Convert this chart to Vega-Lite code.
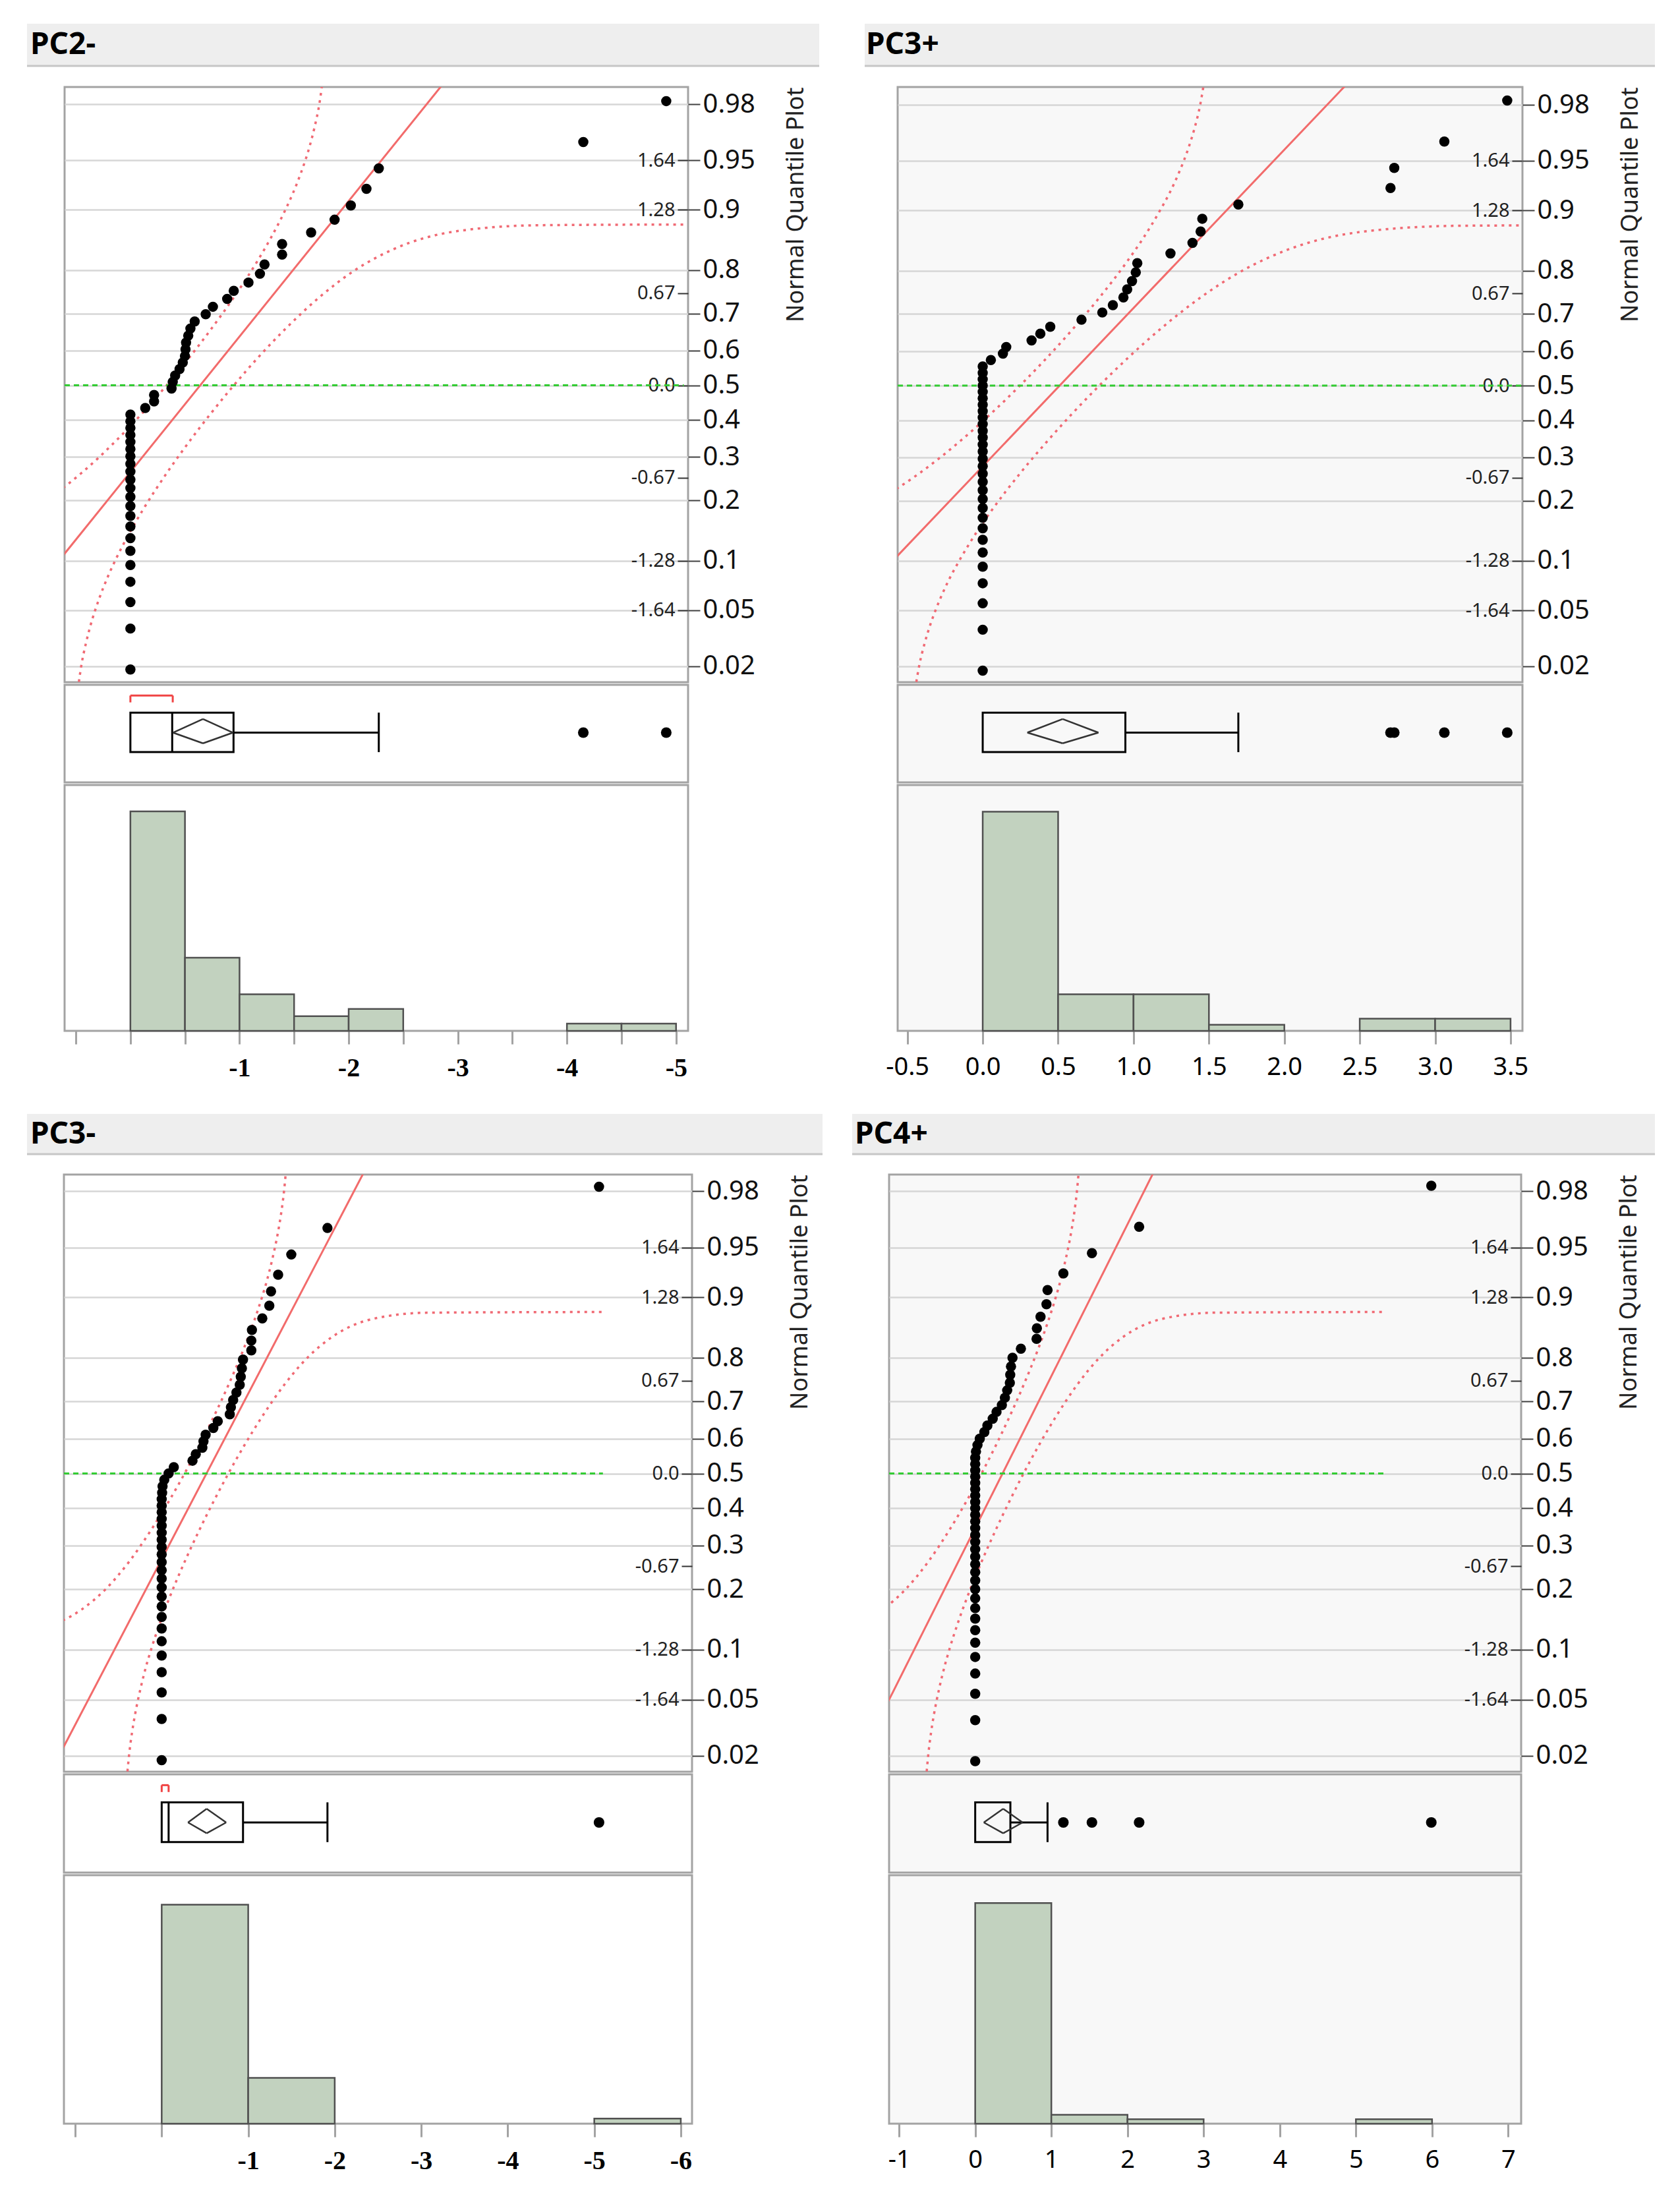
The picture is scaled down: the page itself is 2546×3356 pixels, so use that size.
{
"$schema": "https://vega.github.io/schema/vega-lite/v6.json",
"background": "#ffffff",
"padding": {"left": 39, "top": 36, "right": 30, "bottom": 20},
"config": {
  "view": {"stroke": null},
  "axis": {"labelFlush": false, "labelOverlap": false, "domain": false, "titleFontWeight": "normal"},
  "axisRight": {"tickSize": 18, "tickWidth": 2, "tickColor": "#404040", "labelFont": "Noto Sans", "labelFontSize": 40, "labelColor": "#111111", "labelPadding": 4, "titleFont": "Noto Sans", "titleFontSize": 36, "titleColor": "#222222", "titleAngle": 270, "titleAnchor": "end", "titleAlign": "right", "titleBaseline": "top", "titlePadding": 45},
  "axisLeft": {"tickSize": 16, "tickWidth": 2, "tickColor": "#333333", "labelFont": "Noto Sans", "labelFontSize": 29, "labelColor": "#222222", "labelPadding": 4},
  "axisBottom": {"tickSize": 20, "tickWidth": 3, "tickColor": "#a3a3a3", "labelPadding": 16, "labelColor": "#000000", "labelFontSize": 40}
},
"datasets": {
"pts": [
{"p":"PC2-","v":0,"z":-2.077},{"p":"PC2-","v":0,"z":-1.778},{"p":"PC2-","v":0,"z":-1.585},{"p":"PC2-","v":0,"z":-1.436},{"p":"PC2-","v":0,"z":-1.314},{"p":"PC2-","v":0,"z":-1.21},{"p":"PC2-","v":0,"z":-1.117},{"p":"PC2-","v":0,"z":-1.032},{"p":"PC2-","v":0,"z":-0.955},{"p":"PC2-","v":0,"z":-0.883},{"p":"PC2-","v":0,"z":-0.815},{"p":"PC2-","v":0,"z":-0.751},{"p":"PC2-","v":0,"z":-0.69},{"p":"PC2-","v":0,"z":-0.631},{"p":"PC2-","v":0,"z":-0.574},{"p":"PC2-","v":0,"z":-0.519},{"p":"PC2-","v":0,"z":-0.466},{"p":"PC2-","v":0,"z":-0.414},{"p":"PC2-","v":0,"z":-0.363},{"p":"PC2-","v":0,"z":-0.312},{"p":"PC2-","v":0,"z":-0.263},{"p":"PC2-","v":0,"z":-0.214},
{"p":"PC2-","v":0.136,"z":-0.166},{"p":"PC2-","v":0.217,"z":-0.118},{"p":"PC2-","v":0.217,"z":-0.071},{"p":"PC2-","v":0.377,"z":-0.024},{"p":"PC2-","v":0.388,"z":0.024},{"p":"PC2-","v":0.41,"z":0.071},{"p":"PC2-","v":0.45,"z":0.118},{"p":"PC2-","v":0.48,"z":0.166},{"p":"PC2-","v":0.5,"z":0.214},{"p":"PC2-","v":0.505,"z":0.263},{"p":"PC2-","v":0.51,"z":0.312},{"p":"PC2-","v":0.53,"z":0.363},{"p":"PC2-","v":0.55,"z":0.414},{"p":"PC2-","v":0.589,"z":0.466},{"p":"PC2-","v":0.69,"z":0.519},{"p":"PC2-","v":0.756,"z":0.574},{"p":"PC2-","v":0.887,"z":0.631},{"p":"PC2-","v":0.947,"z":0.69},{"p":"PC2-","v":1.082,"z":0.751},{"p":"PC2-","v":1.187,"z":0.815},{"p":"PC2-","v":1.229,"z":0.883},{"p":"PC2-","v":1.39,"z":0.955},{"p":"PC2-","v":1.39,"z":1.032},{"p":"PC2-","v":1.656,"z":1.117},{"p":"PC2-","v":1.871,"z":1.21},{"p":"PC2-","v":2.02,"z":1.314},{"p":"PC2-","v":2.163,"z":1.436},{"p":"PC2-","v":2.276,"z":1.585},{"p":"PC2-","v":4.15,"z":1.778},{"p":"PC2-","v":4.91,"z":2.077},
{"p":"PC3+","v":0,"z":-2.086},{"p":"PC3+","v":0,"z":-1.786},{"p":"PC3+","v":0,"z":-1.593},{"p":"PC3+","v":0,"z":-1.446},{"p":"PC3+","v":0,"z":-1.325},{"p":"PC3+","v":0,"z":-1.221},{"p":"PC3+","v":0,"z":-1.128},{"p":"PC3+","v":0,"z":-1.044},{"p":"PC3+","v":0,"z":-0.967},{"p":"PC3+","v":0,"z":-0.896},{"p":"PC3+","v":0,"z":-0.829},{"p":"PC3+","v":0,"z":-0.765},{"p":"PC3+","v":0,"z":-0.704},{"p":"PC3+","v":0,"z":-0.645},{"p":"PC3+","v":0,"z":-0.589},{"p":"PC3+","v":0,"z":-0.535},{"p":"PC3+","v":0,"z":-0.482},{"p":"PC3+","v":0,"z":-0.431},{"p":"PC3+","v":0,"z":-0.38},{"p":"PC3+","v":0,"z":-0.331},{"p":"PC3+","v":0,"z":-0.282},{"p":"PC3+","v":0,"z":-0.234},{"p":"PC3+","v":0,"z":-0.187},{"p":"PC3+","v":0,"z":-0.14},{"p":"PC3+","v":0,"z":-0.093},{"p":"PC3+","v":0,"z":-0.046},{"p":"PC3+","v":0,"z":0},{"p":"PC3+","v":0,"z":0.046},{"p":"PC3+","v":0,"z":0.093},{"p":"PC3+","v":0,"z":0.14},
{"p":"PC3+","v":0.054,"z":0.187},{"p":"PC3+","v":0.134,"z":0.234},{"p":"PC3+","v":0.156,"z":0.282},{"p":"PC3+","v":0.324,"z":0.331},{"p":"PC3+","v":0.382,"z":0.38},{"p":"PC3+","v":0.448,"z":0.431},{"p":"PC3+","v":0.655,"z":0.482},{"p":"PC3+","v":0.793,"z":0.535},{"p":"PC3+","v":0.863,"z":0.589},{"p":"PC3+","v":0.933,"z":0.645},{"p":"PC3+","v":0.958,"z":0.704},{"p":"PC3+","v":0.99,"z":0.765},{"p":"PC3+","v":1.015,"z":0.829},{"p":"PC3+","v":1.025,"z":0.896},{"p":"PC3+","v":1.245,"z":0.967},{"p":"PC3+","v":1.391,"z":1.044},{"p":"PC3+","v":1.445,"z":1.128},{"p":"PC3+","v":1.456,"z":1.221},{"p":"PC3+","v":1.695,"z":1.325},{"p":"PC3+","v":2.704,"z":1.446},{"p":"PC3+","v":2.729,"z":1.593},{"p":"PC3+","v":3.061,"z":1.786},{"p":"PC3+","v":3.478,"z":2.086},
{"p":"PC3-","v":0,"z":-2.086},{"p":"PC3-","v":0,"z":-1.786},{"p":"PC3-","v":0,"z":-1.593},{"p":"PC3-","v":0,"z":-1.446},{"p":"PC3-","v":0,"z":-1.325},{"p":"PC3-","v":0,"z":-1.221},{"p":"PC3-","v":0,"z":-1.128},{"p":"PC3-","v":0,"z":-1.044},{"p":"PC3-","v":0,"z":-0.967},{"p":"PC3-","v":0,"z":-0.896},{"p":"PC3-","v":0,"z":-0.829},{"p":"PC3-","v":0,"z":-0.765},{"p":"PC3-","v":0,"z":-0.704},{"p":"PC3-","v":0,"z":-0.645},{"p":"PC3-","v":0,"z":-0.589},{"p":"PC3-","v":0,"z":-0.535},{"p":"PC3-","v":0,"z":-0.482},{"p":"PC3-","v":0,"z":-0.431},{"p":"PC3-","v":0,"z":-0.38},{"p":"PC3-","v":0,"z":-0.331},{"p":"PC3-","v":0,"z":-0.282},{"p":"PC3-","v":0,"z":-0.234},{"p":"PC3-","v":0,"z":-0.187},
{"p":"PC3-","v":0.005,"z":-0.14},{"p":"PC3-","v":0.01,"z":-0.093},{"p":"PC3-","v":0.03,"z":-0.046},{"p":"PC3-","v":0.08,"z":0},{"p":"PC3-","v":0.14,"z":0.046},{"p":"PC3-","v":0.356,"z":0.093},{"p":"PC3-","v":0.394,"z":0.14},{"p":"PC3-","v":0.47,"z":0.187},{"p":"PC3-","v":0.483,"z":0.234},{"p":"PC3-","v":0.508,"z":0.282},{"p":"PC3-","v":0.597,"z":0.331},{"p":"PC3-","v":0.648,"z":0.38},{"p":"PC3-","v":0.787,"z":0.431},{"p":"PC3-","v":0.8,"z":0.482},{"p":"PC3-","v":0.826,"z":0.535},{"p":"PC3-","v":0.864,"z":0.589},{"p":"PC3-","v":0.902,"z":0.645},{"p":"PC3-","v":0.914,"z":0.704},{"p":"PC3-","v":0.927,"z":0.765},{"p":"PC3-","v":0.94,"z":0.829},{"p":"PC3-","v":1.036,"z":0.896},{"p":"PC3-","v":1.036,"z":0.967},{"p":"PC3-","v":1.043,"z":1.044},{"p":"PC3-","v":1.163,"z":1.128},{"p":"PC3-","v":1.244,"z":1.221},{"p":"PC3-","v":1.264,"z":1.325},{"p":"PC3-","v":1.346,"z":1.446},{"p":"PC3-","v":1.498,"z":1.593},{"p":"PC3-","v":1.916,"z":1.786},{"p":"PC3-","v":5.055,"z":2.086},
{"p":"PC4+","v":0,"z":-2.093},{"p":"PC4+","v":0,"z":-1.795},{"p":"PC4+","v":0,"z":-1.603},{"p":"PC4+","v":0,"z":-1.456},{"p":"PC4+","v":0,"z":-1.335},{"p":"PC4+","v":0,"z":-1.231},{"p":"PC4+","v":0,"z":-1.14},{"p":"PC4+","v":0,"z":-1.056},{"p":"PC4+","v":0,"z":-0.98},{"p":"PC4+","v":0,"z":-0.908},{"p":"PC4+","v":0,"z":-0.842},{"p":"PC4+","v":0,"z":-0.778},{"p":"PC4+","v":0,"z":-0.718},{"p":"PC4+","v":0,"z":-0.66},{"p":"PC4+","v":0,"z":-0.605},{"p":"PC4+","v":0,"z":-0.551},{"p":"PC4+","v":0,"z":-0.498},{"p":"PC4+","v":0,"z":-0.448},{"p":"PC4+","v":0,"z":-0.398},{"p":"PC4+","v":0,"z":-0.349},{"p":"PC4+","v":0,"z":-0.301},{"p":"PC4+","v":0,"z":-0.253},{"p":"PC4+","v":0,"z":-0.207},{"p":"PC4+","v":0,"z":-0.16},{"p":"PC4+","v":0,"z":-0.114},{"p":"PC4+","v":0,"z":-0.068},{"p":"PC4+","v":0,"z":-0.023},{"p":"PC4+","v":0,"z":0.023},{"p":"PC4+","v":0,"z":0.068},{"p":"PC4+","v":0,"z":0.114},
{"p":"PC4+","v":0.01,"z":0.16},{"p":"PC4+","v":0.03,"z":0.207},{"p":"PC4+","v":0.06,"z":0.253},{"p":"PC4+","v":0.12,"z":0.301},{"p":"PC4+","v":0.16,"z":0.349},{"p":"PC4+","v":0.23,"z":0.398},{"p":"PC4+","v":0.28,"z":0.448},{"p":"PC4+","v":0.35,"z":0.498},{"p":"PC4+","v":0.39,"z":0.551},{"p":"PC4+","v":0.42,"z":0.605},{"p":"PC4+","v":0.455,"z":0.66},{"p":"PC4+","v":0.46,"z":0.718},{"p":"PC4+","v":0.47,"z":0.778},{"p":"PC4+","v":0.49,"z":0.842},{"p":"PC4+","v":0.6,"z":0.908},{"p":"PC4+","v":0.806,"z":0.98},{"p":"PC4+","v":0.81,"z":1.056},{"p":"PC4+","v":0.858,"z":1.14},{"p":"PC4+","v":0.936,"z":1.231},{"p":"PC4+","v":0.95,"z":1.335},{"p":"PC4+","v":1.158,"z":1.456},{"p":"PC4+","v":1.533,"z":1.603},{"p":"PC4+","v":2.153,"z":1.795},{"p":"PC4+","v":5.99,"z":2.093}
],
"bands": [
{"p":"PC2-","b":"u","v":-1.129,"z":-0.994},{"p":"PC2-","b":"u","v":-0.779,"z":-0.842},{"p":"PC2-","b":"u","v":-0.451,"z":-0.643},{"p":"PC2-","b":"u","v":-0.14,"z":-0.412},{"p":"PC2-","b":"u","v":0.111,"z":-0.202},{"p":"PC2-","b":"u","v":0.332,"z":0},{"p":"PC2-","b":"u","v":0.539,"z":0.202},{"p":"PC2-","b":"u","v":0.741,"z":0.412},{"p":"PC2-","b":"u","v":0.948,"z":0.643},{"p":"PC2-","b":"u","v":1.169,"z":0.915},{"p":"PC2-","b":"u","v":1.289,"z":1.08},{"p":"PC2-","b":"u","v":1.42,"z":1.282},{"p":"PC2-","b":"u","v":1.49,"z":1.405},{"p":"PC2-","b":"u","v":1.564,"z":1.555},{"p":"PC2-","b":"u","v":1.644,"z":1.751},{"p":"PC2-","b":"u","v":1.686,"z":1.881},{"p":"PC2-","b":"u","v":1.731,"z":2.054},{"p":"PC2-","b":"u","v":1.777,"z":2.326},
{"p":"PC2-","b":"l","v":-0.497,"z":-2.326},{"p":"PC2-","b":"l","v":-0.451,"z":-2.054},{"p":"PC2-","b":"l","v":-0.406,"z":-1.881},{"p":"PC2-","b":"l","v":-0.364,"z":-1.751},{"p":"PC2-","b":"l","v":-0.284,"z":-1.555},{"p":"PC2-","b":"l","v":-0.21,"z":-1.405},{"p":"PC2-","b":"l","v":-0.14,"z":-1.282},{"p":"PC2-","b":"l","v":-0.009,"z":-1.08},{"p":"PC2-","b":"l","v":0.111,"z":-0.915},{"p":"PC2-","b":"l","v":0.332,"z":-0.643},{"p":"PC2-","b":"l","v":0.539,"z":-0.412},{"p":"PC2-","b":"l","v":0.741,"z":-0.202},{"p":"PC2-","b":"l","v":0.948,"z":0},{"p":"PC2-","b":"l","v":1.169,"z":0.202},{"p":"PC2-","b":"l","v":1.42,"z":0.412},{"p":"PC2-","b":"l","v":1.731,"z":0.643},{"p":"PC2-","b":"l","v":2.059,"z":0.842},{"p":"PC2-","b":"l","v":2.409,"z":0.994},{"p":"PC2-","b":"l","v":2.989,"z":1.126},{"p":"PC2-","b":"l","v":3.761,"z":1.17},{"p":"PC2-","b":"l","v":5.07,"z":1.175},
{"p":"PC3+","b":"u","v":-1.001,"z":-0.994},{"p":"PC3+","b":"u","v":-0.703,"z":-0.842},{"p":"PC3+","b":"u","v":-0.422,"z":-0.643},{"p":"PC3+","b":"u","v":-0.156,"z":-0.412},{"p":"PC3+","b":"u","v":0.058,"z":-0.202},{"p":"PC3+","b":"u","v":0.247,"z":0},{"p":"PC3+","b":"u","v":0.424,"z":0.202},{"p":"PC3+","b":"u","v":0.596,"z":0.412},{"p":"PC3+","b":"u","v":0.773,"z":0.643},{"p":"PC3+","b":"u","v":0.962,"z":0.915},{"p":"PC3+","b":"u","v":1.065,"z":1.08},{"p":"PC3+","b":"u","v":1.176,"z":1.282},{"p":"PC3+","b":"u","v":1.237,"z":1.405},{"p":"PC3+","b":"u","v":1.3,"z":1.555},{"p":"PC3+","b":"u","v":1.368,"z":1.751},{"p":"PC3+","b":"u","v":1.404,"z":1.881},{"p":"PC3+","b":"u","v":1.442,"z":2.054},{"p":"PC3+","b":"u","v":1.482,"z":2.326},
{"p":"PC3+","b":"l","v":-0.462,"z":-2.326},{"p":"PC3+","b":"l","v":-0.422,"z":-2.054},{"p":"PC3+","b":"l","v":-0.384,"z":-1.881},{"p":"PC3+","b":"l","v":-0.348,"z":-1.751},{"p":"PC3+","b":"l","v":-0.28,"z":-1.555},{"p":"PC3+","b":"l","v":-0.217,"z":-1.405},{"p":"PC3+","b":"l","v":-0.156,"z":-1.282},{"p":"PC3+","b":"l","v":-0.045,"z":-1.08},{"p":"PC3+","b":"l","v":0.058,"z":-0.915},{"p":"PC3+","b":"l","v":0.247,"z":-0.643},{"p":"PC3+","b":"l","v":0.424,"z":-0.412},{"p":"PC3+","b":"l","v":0.596,"z":-0.202},{"p":"PC3+","b":"l","v":0.773,"z":0},{"p":"PC3+","b":"l","v":0.962,"z":0.202},{"p":"PC3+","b":"l","v":1.176,"z":0.412},{"p":"PC3+","b":"l","v":1.442,"z":0.643},{"p":"PC3+","b":"l","v":1.723,"z":0.842},{"p":"PC3+","b":"l","v":2.021,"z":0.994},{"p":"PC3+","b":"l","v":2.517,"z":1.126},{"p":"PC3+","b":"l","v":3.177,"z":1.17},{"p":"PC3+","b":"l","v":3.579,"z":1.172},
{"p":"PC3-","b":"u","v":-2.047,"z":-1.17},{"p":"PC3-","b":"u","v":-1.413,"z":-1.126},{"p":"PC3-","b":"u","v":-0.935,"z":-0.994},{"p":"PC3-","b":"u","v":-0.648,"z":-0.842},{"p":"PC3-","b":"u","v":-0.378,"z":-0.643},{"p":"PC3-","b":"u","v":-0.123,"z":-0.412},{"p":"PC3-","b":"u","v":0.083,"z":-0.202},{"p":"PC3-","b":"u","v":0.265,"z":0},{"p":"PC3-","b":"u","v":0.435,"z":0.202},{"p":"PC3-","b":"u","v":0.601,"z":0.412},{"p":"PC3-","b":"u","v":0.771,"z":0.643},{"p":"PC3-","b":"u","v":0.953,"z":0.915},{"p":"PC3-","b":"u","v":1.052,"z":1.08},{"p":"PC3-","b":"u","v":1.159,"z":1.282},{"p":"PC3-","b":"u","v":1.217,"z":1.405},{"p":"PC3-","b":"u","v":1.277,"z":1.555},{"p":"PC3-","b":"u","v":1.343,"z":1.751},{"p":"PC3-","b":"u","v":1.378,"z":1.881},{"p":"PC3-","b":"u","v":1.414,"z":2.054},{"p":"PC3-","b":"u","v":1.453,"z":2.326},
{"p":"PC3-","b":"l","v":-0.417,"z":-2.326},{"p":"PC3-","b":"l","v":-0.378,"z":-2.054},{"p":"PC3-","b":"l","v":-0.342,"z":-1.881},{"p":"PC3-","b":"l","v":-0.307,"z":-1.751},{"p":"PC3-","b":"l","v":-0.241,"z":-1.555},{"p":"PC3-","b":"l","v":-0.181,"z":-1.405},{"p":"PC3-","b":"l","v":-0.123,"z":-1.282},{"p":"PC3-","b":"l","v":-0.016,"z":-1.08},{"p":"PC3-","b":"l","v":0.083,"z":-0.915},{"p":"PC3-","b":"l","v":0.265,"z":-0.643},{"p":"PC3-","b":"l","v":0.435,"z":-0.412},{"p":"PC3-","b":"l","v":0.601,"z":-0.202},{"p":"PC3-","b":"l","v":0.771,"z":0},{"p":"PC3-","b":"l","v":0.953,"z":0.202},{"p":"PC3-","b":"l","v":1.159,"z":0.412},{"p":"PC3-","b":"l","v":1.414,"z":0.643},{"p":"PC3-","b":"l","v":1.684,"z":0.842},{"p":"PC3-","b":"l","v":1.971,"z":0.994},{"p":"PC3-","b":"l","v":2.449,"z":1.126},{"p":"PC3-","b":"l","v":3.083,"z":1.17},{"p":"PC3-","b":"l","v":5.1,"z":1.175},
{"p":"PC4+","b":"u","v":-2.437,"z":-1.17},{"p":"PC4+","b":"u","v":-1.746,"z":-1.126},{"p":"PC4+","b":"u","v":-1.226,"z":-0.994},{"p":"PC4+","b":"u","v":-0.913,"z":-0.842},{"p":"PC4+","b":"u","v":-0.618,"z":-0.643},{"p":"PC4+","b":"u","v":-0.34,"z":-0.412},{"p":"PC4+","b":"u","v":-0.115,"z":-0.202},{"p":"PC4+","b":"u","v":0.083,"z":0},{"p":"PC4+","b":"u","v":0.269,"z":0.202},{"p":"PC4+","b":"u","v":0.45,"z":0.412},{"p":"PC4+","b":"u","v":0.635,"z":0.643},{"p":"PC4+","b":"u","v":0.833,"z":0.915},{"p":"PC4+","b":"u","v":0.941,"z":1.08},{"p":"PC4+","b":"u","v":1.058,"z":1.282},{"p":"PC4+","b":"u","v":1.121,"z":1.405},{"p":"PC4+","b":"u","v":1.187,"z":1.555},{"p":"PC4+","b":"u","v":1.259,"z":1.751},{"p":"PC4+","b":"u","v":1.297,"z":1.881},{"p":"PC4+","b":"u","v":1.336,"z":2.054},{"p":"PC4+","b":"u","v":1.378,"z":2.326},
{"p":"PC4+","b":"l","v":-0.66,"z":-2.326},{"p":"PC4+","b":"l","v":-0.618,"z":-2.054},{"p":"PC4+","b":"l","v":-0.579,"z":-1.881},{"p":"PC4+","b":"l","v":-0.541,"z":-1.751},{"p":"PC4+","b":"l","v":-0.469,"z":-1.555},{"p":"PC4+","b":"l","v":-0.403,"z":-1.405},{"p":"PC4+","b":"l","v":-0.34,"z":-1.282},{"p":"PC4+","b":"l","v":-0.223,"z":-1.08},{"p":"PC4+","b":"l","v":-0.115,"z":-0.915},{"p":"PC4+","b":"l","v":0.083,"z":-0.643},{"p":"PC4+","b":"l","v":0.269,"z":-0.412},{"p":"PC4+","b":"l","v":0.45,"z":-0.202},{"p":"PC4+","b":"l","v":0.635,"z":0},{"p":"PC4+","b":"l","v":0.833,"z":0.202},{"p":"PC4+","b":"l","v":1.058,"z":0.412},{"p":"PC4+","b":"l","v":1.336,"z":0.643},{"p":"PC4+","b":"l","v":1.631,"z":0.842},{"p":"PC4+","b":"l","v":1.944,"z":0.994},{"p":"PC4+","b":"l","v":2.464,"z":1.126},{"p":"PC4+","b":"l","v":3.155,"z":1.17},{"p":"PC4+","b":"l","v":5.37,"z":1.175}
],
"lines": [
{"p":"PC2-","k":"fit","v":-1.885,"z":-2.5,"v2":3.165,"z2":2.5},{"p":"PC2-","k":"mid","v":-0.603,"z":0,"v2":5.07,"z2":0},
{"p":"PC3+","k":"fit","v":-1.648,"z":-2.5,"v2":2.668,"z2":2.5},{"p":"PC3+","k":"mid","v":-0.564,"z":0,"v2":3.579,"z2":0},
{"p":"PC3-","k":"fit","v":-1.557,"z":-2.5,"v2":2.593,"z2":2.5},{"p":"PC3-","k":"mid","v":-1.13,"z":0,"v2":5.1,"z2":0},
{"p":"PC4+","k":"fit","v":-1.904,"z":-2.5,"v2":2.622,"z2":2.5},{"p":"PC4+","k":"mid","v":-1.131,"z":0,"v2":5.37,"z2":0}
],
"box": [
{"p":"PC2-","q1":0,"med":0.383,"q3":0.945,"wh":2.276,"mean":0.665,"lo":0.39,"hi":0.94,"sl":0,"sh":0.388},
{"p":"PC3+","q1":0,"med":0,"q3":0.946,"wh":1.695,"mean":0.53,"lo":0.296,"hi":0.767,"sl":0,"sh":0},
{"p":"PC3-","q1":0,"med":0.08,"q3":0.94,"wh":1.916,"mean":0.52,"lo":0.304,"hi":0.745,"sl":0,"sh":0.08},
{"p":"PC4+","q1":0,"med":0,"q3":0.462,"wh":0.95,"mean":0.367,"lo":0.113,"hi":0.622,"sl":0,"sh":0}
],
"hist": [
{"p":"PC2-","b0":0,"b1":0.5,"n":30},{"p":"PC2-","b0":0.5,"b1":1,"n":10},{"p":"PC2-","b0":1,"b1":1.5,"n":5},{"p":"PC2-","b0":1.5,"b1":2,"n":2},{"p":"PC2-","b0":2,"b1":2.5,"n":3},{"p":"PC2-","b0":4,"b1":4.5,"n":1},{"p":"PC2-","b0":4.5,"b1":5,"n":1},
{"p":"PC3+","b0":0,"b1":0.5,"n":36},{"p":"PC3+","b0":0.5,"b1":1,"n":6},{"p":"PC3+","b0":1,"b1":1.5,"n":6},{"p":"PC3+","b0":1.5,"b1":2,"n":1},{"p":"PC3+","b0":2.5,"b1":3,"n":2},{"p":"PC3+","b0":3,"b1":3.5,"n":2},
{"p":"PC3-","b0":0,"b1":1,"n":43},{"p":"PC3-","b0":1,"b1":2,"n":9},{"p":"PC3-","b0":5,"b1":6,"n":1},
{"p":"PC4+","b0":0,"b1":1,"n":50},{"p":"PC4+","b0":1,"b1":2,"n":2},{"p":"PC4+","b0":2,"b1":3,"n":1},{"p":"PC4+","b0":5,"b1":6,"n":1}
]
},
"spacing": 0,
"vconcat": [
{"bounds": "flush", "spacing": 69, "hconcat": [
  {"width": 1202, "height": 64, "data": {"values": [{"t": "PC2-"}]}, "view": {"fill": "#eeeeee", "stroke": null},
   "layer": [
    {"mark": {"type": "rule", "color": "#c6c6c6", "strokeWidth": 3}, "encoding": {"y": {"datum": 0, "type": "quantitative", "scale": {"domain": [0, 1]}, "axis": null}}},
    {"mark": {"type": "text", "align": "left", "baseline": "middle", "dx": 5, "font": "Noto Sans", "fontSize": 46, "fontWeight": "bold", "color": "#000000"},
     "encoding": {"x": {"datum": 0, "type": "quantitative", "scale": {"domain": [0, 1]}, "axis": null}, "y": {"datum": 0.5, "type": "quantitative", "scale": {"domain": [0, 1]}, "axis": null}, "text": {"field": "t"}}}
   ]},
  {"width": 1199, "height": 64, "data": {"values": [{"t": "PC3+"}]}, "view": {"fill": "#eeeeee", "stroke": null},
   "layer": [
    {"mark": {"type": "rule", "color": "#c6c6c6", "strokeWidth": 3}, "encoding": {"y": {"datum": 0, "type": "quantitative", "scale": {"domain": [0, 1]}, "axis": null}}},
    {"mark": {"type": "text", "align": "left", "baseline": "middle", "dx": 2, "font": "Noto Sans", "fontSize": 46, "fontWeight": "bold", "color": "#000000"},
     "encoding": {"x": {"datum": 0, "type": "quantitative", "scale": {"domain": [0, 1]}, "axis": null}, "y": {"datum": 0.5, "type": "quantitative", "scale": {"domain": [0, 1]}, "axis": null}, "text": {"field": "t"}}}
   ]}
]},
{"width": 10, "height": 28, "data": {"values": [{}]}, "mark": {"type": "point", "opacity": 0}, "view": {"stroke": null}},
{"bounds": "flush", "spacing": 0, "hconcat": [
  {"width": 57, "height": 10, "data": {"values": [{}]}, "mark": {"type": "point", "opacity": 0}, "view": {"stroke": null}},
  {"width": 946, "height": 903, "view": {"fill": "#ffffff", "stroke": "#a3a3a3", "strokeWidth": 3},
   "resolve": {"axis": {"y": "independent"}},
   "layer": [
    {"data": {"name": "bands"}, "transform": [{"filter": "datum.p == 'PC2-'"}],
     "mark": {"type": "line", "color": "#f06a74", "strokeWidth": 3.5, "strokeDash": [4, 7], "interpolate": "monotone", "clip": true},
     "encoding": {"x": {"field": "v", "type": "quantitative", "scale": {"domain": [-0.603, 5.11], "nice": false, "zero": false}, "axis": null},
                  "y": {"field": "z", "type": "quantitative", "scale": {"domain": [-2.17, 2.18], "nice": false, "zero": false}, "axis": null},
                  "detail": {"field": "b"}, "order": {"field": "v"}}},
    {"data": {"name": "lines"}, "transform": [{"filter": "datum.p == 'PC2-' && datum.k == 'fit'"}],
     "mark": {"type": "rule", "color": "#f26b6b", "strokeWidth": 3, "clip": true},
     "encoding": {"x": {"field": "v", "type": "quantitative", "scale": {"domain": [-0.603, 5.11], "nice": false, "zero": false}, "axis": null}, "x2": {"field": "v2"},
                  "y": {"field": "z", "type": "quantitative", "scale": {"domain": [-2.17, 2.18], "nice": false, "zero": false}, "axis": null}, "y2": {"field": "z2"}}},
    {"data": {"name": "lines"}, "transform": [{"filter": "datum.p == 'PC2-' && datum.k == 'mid'"}],
     "mark": {"type": "rule", "color": "#33cc33", "strokeWidth": 3, "strokeDash": [8, 6], "clip": true},
     "encoding": {"x": {"field": "v", "type": "quantitative", "scale": {"domain": [-0.603, 5.11], "nice": false, "zero": false}, "axis": null}, "x2": {"field": "v2"},
                  "y": {"field": "z", "type": "quantitative", "scale": {"domain": [-2.17, 2.18], "nice": false, "zero": false},
                        "axis": {"orient": "left", "offset": -946, "values": [-1.6449, -1.2816, -0.6745, 0, 0.6745, 1.2816, 1.6449], "labelExpr": "datum.value == 0 ? '0.0' : (datum.value < 0 ? '-' : '') + format(abs(datum.value), '.2f')", "grid": false, "title": null}},
                  "y2": {"field": "z2"}}},
    {"data": {"name": "pts"}, "transform": [{"filter": "datum.p == 'PC2-'"}],
     "mark": {"type": "circle", "color": "#000000", "size": 240, "opacity": 1},
     "encoding": {"x": {"field": "v", "type": "quantitative", "scale": {"domain": [-0.603, 5.11], "nice": false, "zero": false}, "axis": null},
                  "y": {"field": "z", "type": "quantitative", "scale": {"domain": [-2.17, 2.18], "nice": false, "zero": false},
                        "axis": {"orient": "right", "values": [-2.0537, -1.6449, -1.2816, -0.8416, -0.5244, -0.2533, 0, 0.2533, 0.5244, 0.8416, 1.2816, 1.6449, 2.0537], "labelExpr": "datum.value < -2 ? '0.02' : datum.value < -1.5 ? '0.05' : datum.value < -1 ? '0.1' : datum.value < -0.7 ? '0.2' : datum.value < -0.4 ? '0.3' : datum.value < -0.1 ? '0.4' : datum.value < 0.1 ? '0.5' : datum.value < 0.4 ? '0.6' : datum.value < 0.7 ? '0.7' : datum.value < 1 ? '0.8' : datum.value < 1.5 ? '0.9' : datum.value < 2 ? '0.95' : '0.98'", "grid": true, "gridColor": "#d6d6d6", "gridWidth": 2.5, "title": "Normal Quantile Plot"}}}}
   ]},
  {"width": 318, "height": 10, "data": {"values": [{}]}, "mark": {"type": "point", "opacity": 0}, "view": {"stroke": null}},
  {"width": 948, "height": 903, "view": {"fill": "#f8f8f8", "stroke": "#a3a3a3", "strokeWidth": 3},
   "resolve": {"axis": {"y": "independent"}},
   "layer": [
    {"data": {"name": "bands"}, "transform": [{"filter": "datum.p == 'PC3+'"}],
     "mark": {"type": "line", "color": "#f06a74", "strokeWidth": 3.5, "strokeDash": [4, 7], "interpolate": "monotone", "clip": true},
     "encoding": {"x": {"field": "v", "type": "quantitative", "scale": {"domain": [-0.564, 3.579], "nice": false, "zero": false}, "axis": null},
                  "y": {"field": "z", "type": "quantitative", "scale": {"domain": [-2.17, 2.185], "nice": false, "zero": false}, "axis": null},
                  "detail": {"field": "b"}, "order": {"field": "v"}}},
    {"data": {"name": "lines"}, "transform": [{"filter": "datum.p == 'PC3+' && datum.k == 'fit'"}],
     "mark": {"type": "rule", "color": "#f26b6b", "strokeWidth": 3, "clip": true},
     "encoding": {"x": {"field": "v", "type": "quantitative", "scale": {"domain": [-0.564, 3.579], "nice": false, "zero": false}, "axis": null}, "x2": {"field": "v2"},
                  "y": {"field": "z", "type": "quantitative", "scale": {"domain": [-2.17, 2.185], "nice": false, "zero": false}, "axis": null}, "y2": {"field": "z2"}}},
    {"data": {"name": "lines"}, "transform": [{"filter": "datum.p == 'PC3+' && datum.k == 'mid'"}],
     "mark": {"type": "rule", "color": "#33cc33", "strokeWidth": 3, "strokeDash": [8, 6], "clip": true},
     "encoding": {"x": {"field": "v", "type": "quantitative", "scale": {"domain": [-0.564, 3.579], "nice": false, "zero": false}, "axis": null}, "x2": {"field": "v2"},
                  "y": {"field": "z", "type": "quantitative", "scale": {"domain": [-2.17, 2.185], "nice": false, "zero": false},
                        "axis": {"orient": "left", "offset": -948, "values": [-1.6449, -1.2816, -0.6745, 0, 0.6745, 1.2816, 1.6449], "labelExpr": "datum.value == 0 ? '0.0' : (datum.value < 0 ? '-' : '') + format(abs(datum.value), '.2f')", "grid": false, "title": null}},
                  "y2": {"field": "z2"}}},
    {"data": {"name": "pts"}, "transform": [{"filter": "datum.p == 'PC3+'"}],
     "mark": {"type": "circle", "color": "#000000", "size": 240, "opacity": 1},
     "encoding": {"x": {"field": "v", "type": "quantitative", "scale": {"domain": [-0.564, 3.579], "nice": false, "zero": false}, "axis": null},
                  "y": {"field": "z", "type": "quantitative", "scale": {"domain": [-2.17, 2.185], "nice": false, "zero": false},
                        "axis": {"orient": "right", "values": [-2.0537, -1.6449, -1.2816, -0.8416, -0.5244, -0.2533, 0, 0.2533, 0.5244, 0.8416, 1.2816, 1.6449, 2.0537], "labelExpr": "datum.value < -2 ? '0.02' : datum.value < -1.5 ? '0.05' : datum.value < -1 ? '0.1' : datum.value < -0.7 ? '0.2' : datum.value < -0.4 ? '0.3' : datum.value < -0.1 ? '0.4' : datum.value < 0.1 ? '0.5' : datum.value < 0.4 ? '0.6' : datum.value < 0.7 ? '0.7' : datum.value < 1 ? '0.8' : datum.value < 1.5 ? '0.9' : datum.value < 2 ? '0.95' : '0.98'", "grid": true, "gridColor": "#d6d6d6", "gridWidth": 2.5, "title": "Normal Quantile Plot"}}}}
   ]}
]},
{"bounds": "flush", "spacing": 0, "hconcat": [
  {"width": 57, "height": 10, "data": {"values": [{}]}, "mark": {"type": "point", "opacity": 0}, "view": {"stroke": null}},
  {"width": 946, "height": 148, "view": {"fill": "#ffffff", "stroke": "#a3a3a3", "strokeWidth": 3},
   "layer": [
    {"data": {"name": "box"}, "transform": [{"filter": "datum.p == 'PC2-'"}],
     "layer": [
      {"mark": {"type": "rect", "fillOpacity": 0, "stroke": "#000000", "strokeWidth": 3},
       "encoding": {"x": {"field": "q1", "type": "quantitative", "scale": {"domain": [-0.603, 5.11], "nice": false, "zero": false}, "axis": null}, "x2": {"field": "q3"},
                    "y": {"datum": 0.31, "type": "quantitative", "scale": {"domain": [0, 1], "nice": false, "zero": false}, "axis": null}, "y2": {"datum": 0.715}}},
      {"mark": {"type": "rule", "color": "#000000", "strokeWidth": 3},
       "encoding": {"x": {"field": "med", "type": "quantitative", "scale": {"domain": [-0.603, 5.11], "nice": false, "zero": false}, "axis": null},
                    "y": {"datum": 0.31, "type": "quantitative", "scale": {"domain": [0, 1], "nice": false, "zero": false}, "axis": null}, "y2": {"datum": 0.715}}},
      {"mark": {"type": "rule", "color": "#000000", "strokeWidth": 3},
       "encoding": {"x": {"field": "q3", "type": "quantitative", "scale": {"domain": [-0.603, 5.11], "nice": false, "zero": false}, "axis": null}, "x2": {"field": "wh"},
                    "y": {"datum": 0.51, "type": "quantitative", "scale": {"domain": [0, 1], "nice": false, "zero": false}, "axis": null}}},
      {"mark": {"type": "rule", "color": "#000000", "strokeWidth": 3},
       "encoding": {"x": {"field": "wh", "type": "quantitative", "scale": {"domain": [-0.603, 5.11], "nice": false, "zero": false}, "axis": null},
                    "y": {"datum": 0.31, "type": "quantitative", "scale": {"domain": [0, 1], "nice": false, "zero": false}, "axis": null}, "y2": {"datum": 0.715}}},
      {"mark": {"type": "rule", "color": "#333333", "strokeWidth": 2.5},
       "encoding": {"x": {"field": "lo", "type": "quantitative", "scale": {"domain": [-0.603, 5.11], "nice": false, "zero": false}, "axis": null}, "x2": {"field": "mean"},
                    "y": {"datum": 0.51, "type": "quantitative", "scale": {"domain": [0, 1], "nice": false, "zero": false}, "axis": null}, "y2": {"datum": 0.65}}},
      {"mark": {"type": "rule", "color": "#333333", "strokeWidth": 2.5},
       "encoding": {"x": {"field": "mean", "type": "quantitative", "scale": {"domain": [-0.603, 5.11], "nice": false, "zero": false}, "axis": null}, "x2": {"field": "hi"},
                    "y": {"datum": 0.65, "type": "quantitative", "scale": {"domain": [0, 1], "nice": false, "zero": false}, "axis": null}, "y2": {"datum": 0.51}}},
      {"mark": {"type": "rule", "color": "#333333", "strokeWidth": 2.5},
       "encoding": {"x": {"field": "hi", "type": "quantitative", "scale": {"domain": [-0.603, 5.11], "nice": false, "zero": false}, "axis": null}, "x2": {"field": "mean"},
                    "y": {"datum": 0.51, "type": "quantitative", "scale": {"domain": [0, 1], "nice": false, "zero": false}, "axis": null}, "y2": {"datum": 0.4}}},
      {"mark": {"type": "rule", "color": "#333333", "strokeWidth": 2.5},
       "encoding": {"x": {"field": "mean", "type": "quantitative", "scale": {"domain": [-0.603, 5.11], "nice": false, "zero": false}, "axis": null}, "x2": {"field": "lo"},
                    "y": {"datum": 0.4, "type": "quantitative", "scale": {"domain": [0, 1], "nice": false, "zero": false}, "axis": null}, "y2": {"datum": 0.51}}},
      {"transform": [{"filter": "datum.sh > datum.sl"}], "mark": {"type": "rule", "color": "#f04444", "strokeWidth": 3},
       "encoding": {"x": {"field": "sl", "type": "quantitative", "scale": {"domain": [-0.603, 5.11], "nice": false, "zero": false}, "axis": null}, "x2": {"field": "sh"},
                    "y": {"datum": 0.89, "type": "quantitative", "scale": {"domain": [0, 1], "nice": false, "zero": false}, "axis": null}}},
      {"transform": [{"filter": "datum.sh > datum.sl"}], "mark": {"type": "rule", "color": "#f04444", "strokeWidth": 3},
       "encoding": {"x": {"field": "sl", "type": "quantitative", "scale": {"domain": [-0.603, 5.11], "nice": false, "zero": false}, "axis": null},
                    "y": {"datum": 0.82, "type": "quantitative", "scale": {"domain": [0, 1], "nice": false, "zero": false}, "axis": null}, "y2": {"datum": 0.89}}},
      {"transform": [{"filter": "datum.sh > datum.sl"}], "mark": {"type": "rule", "color": "#f04444", "strokeWidth": 3},
       "encoding": {"x": {"field": "sh", "type": "quantitative", "scale": {"domain": [-0.603, 5.11], "nice": false, "zero": false}, "axis": null},
                    "y": {"datum": 0.82, "type": "quantitative", "scale": {"domain": [0, 1], "nice": false, "zero": false}, "axis": null}, "y2": {"datum": 0.89}}}
     ]},
    {"data": {"name": "pts"}, "transform": [{"filter": "datum.p == 'PC2-' && datum.v > 2.3"}],
     "mark": {"type": "circle", "color": "#000000", "size": 260, "opacity": 1},
     "encoding": {"x": {"field": "v", "type": "quantitative", "scale": {"domain": [-0.603, 5.11], "nice": false, "zero": false}, "axis": null},
                  "y": {"datum": 0.51, "type": "quantitative", "scale": {"domain": [0, 1], "nice": false, "zero": false}, "axis": null}}}
   ]},
  {"width": 318, "height": 10, "data": {"values": [{}]}, "mark": {"type": "point", "opacity": 0}, "view": {"stroke": null}},
  {"width": 948, "height": 148, "view": {"fill": "#f8f8f8", "stroke": "#a3a3a3", "strokeWidth": 3},
   "layer": [
    {"data": {"name": "box"}, "transform": [{"filter": "datum.p == 'PC3+'"}],
     "layer": [
      {"mark": {"type": "rect", "fillOpacity": 0, "stroke": "#000000", "strokeWidth": 3},
       "encoding": {"x": {"field": "q1", "type": "quantitative", "scale": {"domain": [-0.564, 3.579], "nice": false, "zero": false}, "axis": null}, "x2": {"field": "q3"},
                    "y": {"datum": 0.31, "type": "quantitative", "scale": {"domain": [0, 1], "nice": false, "zero": false}, "axis": null}, "y2": {"datum": 0.715}}},
      {"mark": {"type": "rule", "color": "#000000", "strokeWidth": 3},
       "encoding": {"x": {"field": "q3", "type": "quantitative", "scale": {"domain": [-0.564, 3.579], "nice": false, "zero": false}, "axis": null}, "x2": {"field": "wh"},
                    "y": {"datum": 0.51, "type": "quantitative", "scale": {"domain": [0, 1], "nice": false, "zero": false}, "axis": null}}},
      {"mark": {"type": "rule", "color": "#000000", "strokeWidth": 3},
       "encoding": {"x": {"field": "wh", "type": "quantitative", "scale": {"domain": [-0.564, 3.579], "nice": false, "zero": false}, "axis": null},
                    "y": {"datum": 0.31, "type": "quantitative", "scale": {"domain": [0, 1], "nice": false, "zero": false}, "axis": null}, "y2": {"datum": 0.715}}},
      {"mark": {"type": "rule", "color": "#333333", "strokeWidth": 2.5},
       "encoding": {"x": {"field": "lo", "type": "quantitative", "scale": {"domain": [-0.564, 3.579], "nice": false, "zero": false}, "axis": null}, "x2": {"field": "mean"},
                    "y": {"datum": 0.51, "type": "quantitative", "scale": {"domain": [0, 1], "nice": false, "zero": false}, "axis": null}, "y2": {"datum": 0.65}}},
      {"mark": {"type": "rule", "color": "#333333", "strokeWidth": 2.5},
       "encoding": {"x": {"field": "mean", "type": "quantitative", "scale": {"domain": [-0.564, 3.579], "nice": false, "zero": false}, "axis": null}, "x2": {"field": "hi"},
                    "y": {"datum": 0.65, "type": "quantitative", "scale": {"domain": [0, 1], "nice": false, "zero": false}, "axis": null}, "y2": {"datum": 0.51}}},
      {"mark": {"type": "rule", "color": "#333333", "strokeWidth": 2.5},
       "encoding": {"x": {"field": "hi", "type": "quantitative", "scale": {"domain": [-0.564, 3.579], "nice": false, "zero": false}, "axis": null}, "x2": {"field": "mean"},
                    "y": {"datum": 0.51, "type": "quantitative", "scale": {"domain": [0, 1], "nice": false, "zero": false}, "axis": null}, "y2": {"datum": 0.4}}},
      {"mark": {"type": "rule", "color": "#333333", "strokeWidth": 2.5},
       "encoding": {"x": {"field": "mean", "type": "quantitative", "scale": {"domain": [-0.564, 3.579], "nice": false, "zero": false}, "axis": null}, "x2": {"field": "lo"},
                    "y": {"datum": 0.4, "type": "quantitative", "scale": {"domain": [0, 1], "nice": false, "zero": false}, "axis": null}, "y2": {"datum": 0.51}}}
     ]},
    {"data": {"name": "pts"}, "transform": [{"filter": "datum.p == 'PC3+' && datum.v > 1.7"}],
     "mark": {"type": "circle", "color": "#000000", "size": 260, "opacity": 1},
     "encoding": {"x": {"field": "v", "type": "quantitative", "scale": {"domain": [-0.564, 3.579], "nice": false, "zero": false}, "axis": null},
                  "y": {"datum": 0.51, "type": "quantitative", "scale": {"domain": [0, 1], "nice": false, "zero": false}, "axis": null}}}
   ]}
]},
{"bounds": "flush", "spacing": 0, "hconcat": [
  {"width": 57, "height": 10, "data": {"values": [{}]}, "mark": {"type": "point", "opacity": 0}, "view": {"stroke": null}},
  {"width": 946, "height": 373, "view": {"fill": "#ffffff", "stroke": "#a3a3a3", "strokeWidth": 3},
   "data": {"name": "hist"}, "transform": [{"filter": "datum.p == 'PC2-'"}],
   "mark": {"type": "rect", "fill": "#c2d2bf", "stroke": "#505050", "strokeWidth": 2.5},
   "encoding": {
    "x": {"field": "b0", "type": "quantitative", "scale": {"domain": [-0.603, 5.11], "nice": false, "zero": false},
          "axis": {"values": [-0.5, 0, 0.5, 1, 1.5, 2, 2.5, 3, 3.5, 4, 4.5, 5], "labelExpr": "datum.value >= 1 && datum.value % 1 == 0 ? '-' + datum.value : ''", "labelFont": "Liberation Serif", "labelFontWeight": "bold", "grid": false, "title": null}},
    "x2": {"field": "b1"},
    "y": {"field": "n", "type": "quantitative", "scale": {"domain": [0, 33.6], "nice": false}, "axis": null},
    "y2": {"datum": 0}}},
  {"width": 318, "height": 10, "data": {"values": [{}]}, "mark": {"type": "point", "opacity": 0}, "view": {"stroke": null}},
  {"width": 948, "height": 373, "view": {"fill": "#f8f8f8", "stroke": "#a3a3a3", "strokeWidth": 3},
   "data": {"name": "hist"}, "transform": [{"filter": "datum.p == 'PC3+'"}],
   "mark": {"type": "rect", "fill": "#c2d2bf", "stroke": "#505050", "strokeWidth": 2.5},
   "encoding": {
    "x": {"field": "b0", "type": "quantitative", "scale": {"domain": [-0.564, 3.579], "nice": false, "zero": false},
          "axis": {"values": [-0.5, 0, 0.5, 1, 1.5, 2, 2.5, 3, 3.5], "labelExpr": "(datum.value < 0 ? '-' : '') + format(abs(datum.value), '.1f')", "labelFont": "Noto Sans", "labelFontSize": 38, "grid": false, "title": null}},
    "x2": {"field": "b1"},
    "y": {"field": "n", "type": "quantitative", "scale": {"domain": [0, 40.4], "nice": false}, "axis": null},
    "y2": {"datum": 0}}}
]},
{"width": 10, "height": 48, "data": {"values": [{}]}, "mark": {"type": "point", "opacity": 0}, "view": {"stroke": null}},
{"bounds": "flush", "spacing": 45, "hconcat": [
  {"width": 1207, "height": 61, "data": {"values": [{"t": "PC3-"}]}, "view": {"fill": "#eeeeee", "stroke": null},
   "layer": [
    {"mark": {"type": "rule", "color": "#c6c6c6", "strokeWidth": 3}, "encoding": {"y": {"datum": 0, "type": "quantitative", "scale": {"domain": [0, 1]}, "axis": null}}},
    {"mark": {"type": "text", "align": "left", "baseline": "middle", "dx": 5, "font": "Noto Sans", "fontSize": 46, "fontWeight": "bold", "color": "#000000"},
     "encoding": {"x": {"datum": 0, "type": "quantitative", "scale": {"domain": [0, 1]}, "axis": null}, "y": {"datum": 0.5, "type": "quantitative", "scale": {"domain": [0, 1]}, "axis": null}, "text": {"field": "t"}}}
   ]},
  {"width": 1218, "height": 61, "data": {"values": [{"t": "PC4+"}]}, "view": {"fill": "#eeeeee", "stroke": null},
   "layer": [
    {"mark": {"type": "rule", "color": "#c6c6c6", "strokeWidth": 3}, "encoding": {"y": {"datum": 0, "type": "quantitative", "scale": {"domain": [0, 1]}, "axis": null}}},
    {"mark": {"type": "text", "align": "left", "baseline": "middle", "dx": 4, "font": "Noto Sans", "fontSize": 46, "fontWeight": "bold", "color": "#000000"},
     "encoding": {"x": {"datum": 0, "type": "quantitative", "scale": {"domain": [0, 1]}, "axis": null}, "y": {"datum": 0.5, "type": "quantitative", "scale": {"domain": [0, 1]}, "axis": null}, "text": {"field": "t"}}}
   ]}
]},
{"width": 10, "height": 27, "data": {"values": [{}]}, "mark": {"type": "point", "opacity": 0}, "view": {"stroke": null}},
{"bounds": "flush", "spacing": 0, "hconcat": [
  {"width": 56, "height": 10, "data": {"values": [{}]}, "mark": {"type": "point", "opacity": 0}, "view": {"stroke": null}},
  {"width": 953, "height": 906, "view": {"fill": "#ffffff", "stroke": "#a3a3a3", "strokeWidth": 3},
   "resolve": {"axis": {"y": "independent"}},
   "layer": [
    {"data": {"name": "bands"}, "transform": [{"filter": "datum.p == 'PC3-'"}],
     "mark": {"type": "line", "color": "#f06a74", "strokeWidth": 3.5, "strokeDash": [4, 7], "interpolate": "monotone", "clip": true},
     "encoding": {"x": {"field": "v", "type": "quantitative", "scale": {"domain": [-1.13, 6.13], "nice": false, "zero": false}, "axis": null},
                  "y": {"field": "z", "type": "quantitative", "scale": {"domain": [-2.17, 2.175], "nice": false, "zero": false}, "axis": null},
                  "detail": {"field": "b"}, "order": {"field": "v"}}},
    {"data": {"name": "lines"}, "transform": [{"filter": "datum.p == 'PC3-' && datum.k == 'fit'"}],
     "mark": {"type": "rule", "color": "#f26b6b", "strokeWidth": 3, "clip": true},
     "encoding": {"x": {"field": "v", "type": "quantitative", "scale": {"domain": [-1.13, 6.13], "nice": false, "zero": false}, "axis": null}, "x2": {"field": "v2"},
                  "y": {"field": "z", "type": "quantitative", "scale": {"domain": [-2.17, 2.175], "nice": false, "zero": false}, "axis": null}, "y2": {"field": "z2"}}},
    {"data": {"name": "lines"}, "transform": [{"filter": "datum.p == 'PC3-' && datum.k == 'mid'"}],
     "mark": {"type": "rule", "color": "#33cc33", "strokeWidth": 3, "strokeDash": [8, 6], "clip": true},
     "encoding": {"x": {"field": "v", "type": "quantitative", "scale": {"domain": [-1.13, 6.13], "nice": false, "zero": false}, "axis": null}, "x2": {"field": "v2"},
                  "y": {"field": "z", "type": "quantitative", "scale": {"domain": [-2.17, 2.175], "nice": false, "zero": false},
                        "axis": {"orient": "left", "offset": -953, "values": [-1.6449, -1.2816, -0.6745, 0, 0.6745, 1.2816, 1.6449], "labelExpr": "datum.value == 0 ? '0.0' : (datum.value < 0 ? '-' : '') + format(abs(datum.value), '.2f')", "grid": false, "title": null}},
                  "y2": {"field": "z2"}}},
    {"data": {"name": "pts"}, "transform": [{"filter": "datum.p == 'PC3-'"}],
     "mark": {"type": "circle", "color": "#000000", "size": 240, "opacity": 1},
     "encoding": {"x": {"field": "v", "type": "quantitative", "scale": {"domain": [-1.13, 6.13], "nice": false, "zero": false}, "axis": null},
                  "y": {"field": "z", "type": "quantitative", "scale": {"domain": [-2.17, 2.175], "nice": false, "zero": false},
                        "axis": {"orient": "right", "values": [-2.0537, -1.6449, -1.2816, -0.8416, -0.5244, -0.2533, 0, 0.2533, 0.5244, 0.8416, 1.2816, 1.6449, 2.0537], "labelExpr": "datum.value < -2 ? '0.02' : datum.value < -1.5 ? '0.05' : datum.value < -1 ? '0.1' : datum.value < -0.7 ? '0.2' : datum.value < -0.4 ? '0.3' : datum.value < -0.1 ? '0.4' : datum.value < 0.1 ? '0.5' : datum.value < 0.4 ? '0.6' : datum.value < 0.7 ? '0.7' : datum.value < 1 ? '0.8' : datum.value < 1.5 ? '0.9' : datum.value < 2 ? '0.95' : '0.98'", "grid": true, "gridColor": "#d6d6d6", "gridWidth": 2.5, "title": "Normal Quantile Plot"}}}}
   ]},
  {"width": 299, "height": 10, "data": {"values": [{}]}, "mark": {"type": "point", "opacity": 0}, "view": {"stroke": null}},
  {"width": 959, "height": 906, "view": {"fill": "#f8f8f8", "stroke": "#a3a3a3", "strokeWidth": 3},
   "resolve": {"axis": {"y": "independent"}},
   "layer": [
    {"data": {"name": "bands"}, "transform": [{"filter": "datum.p == 'PC4+'"}],
     "mark": {"type": "line", "color": "#f06a74", "strokeWidth": 3.5, "strokeDash": [4, 7], "interpolate": "monotone", "clip": true},
     "encoding": {"x": {"field": "v", "type": "quantitative", "scale": {"domain": [-1.131, 7.17], "nice": false, "zero": false}, "axis": null},
                  "y": {"field": "z", "type": "quantitative", "scale": {"domain": [-2.17, 2.175], "nice": false, "zero": false}, "axis": null},
                  "detail": {"field": "b"}, "order": {"field": "v"}}},
    {"data": {"name": "lines"}, "transform": [{"filter": "datum.p == 'PC4+' && datum.k == 'fit'"}],
     "mark": {"type": "rule", "color": "#f26b6b", "strokeWidth": 3, "clip": true},
     "encoding": {"x": {"field": "v", "type": "quantitative", "scale": {"domain": [-1.131, 7.17], "nice": false, "zero": false}, "axis": null}, "x2": {"field": "v2"},
                  "y": {"field": "z", "type": "quantitative", "scale": {"domain": [-2.17, 2.175], "nice": false, "zero": false}, "axis": null}, "y2": {"field": "z2"}}},
    {"data": {"name": "lines"}, "transform": [{"filter": "datum.p == 'PC4+' && datum.k == 'mid'"}],
     "mark": {"type": "rule", "color": "#33cc33", "strokeWidth": 3, "strokeDash": [8, 6], "clip": true},
     "encoding": {"x": {"field": "v", "type": "quantitative", "scale": {"domain": [-1.131, 7.17], "nice": false, "zero": false}, "axis": null}, "x2": {"field": "v2"},
                  "y": {"field": "z", "type": "quantitative", "scale": {"domain": [-2.17, 2.175], "nice": false, "zero": false},
                        "axis": {"orient": "left", "offset": -959, "values": [-1.6449, -1.2816, -0.6745, 0, 0.6745, 1.2816, 1.6449], "labelExpr": "datum.value == 0 ? '0.0' : (datum.value < 0 ? '-' : '') + format(abs(datum.value), '.2f')", "grid": false, "title": null}},
                  "y2": {"field": "z2"}}},
    {"data": {"name": "pts"}, "transform": [{"filter": "datum.p == 'PC4+'"}],
     "mark": {"type": "circle", "color": "#000000", "size": 240, "opacity": 1},
     "encoding": {"x": {"field": "v", "type": "quantitative", "scale": {"domain": [-1.131, 7.17], "nice": false, "zero": false}, "axis": null},
                  "y": {"field": "z", "type": "quantitative", "scale": {"domain": [-2.17, 2.175], "nice": false, "zero": false},
                        "axis": {"orient": "right", "values": [-2.0537, -1.6449, -1.2816, -0.8416, -0.5244, -0.2533, 0, 0.2533, 0.5244, 0.8416, 1.2816, 1.6449, 2.0537], "labelExpr": "datum.value < -2 ? '0.02' : datum.value < -1.5 ? '0.05' : datum.value < -1 ? '0.1' : datum.value < -0.7 ? '0.2' : datum.value < -0.4 ? '0.3' : datum.value < -0.1 ? '0.4' : datum.value < 0.1 ? '0.5' : datum.value < 0.4 ? '0.6' : datum.value < 0.7 ? '0.7' : datum.value < 1 ? '0.8' : datum.value < 1.5 ? '0.9' : datum.value < 2 ? '0.95' : '0.98'", "grid": true, "gridColor": "#d6d6d6", "gridWidth": 2.5, "title": "Normal Quantile Plot"}}}}
   ]}
]},
{"bounds": "flush", "spacing": 0, "hconcat": [
  {"width": 56, "height": 10, "data": {"values": [{}]}, "mark": {"type": "point", "opacity": 0}, "view": {"stroke": null}},
  {"width": 953, "height": 149, "view": {"fill": "#ffffff", "stroke": "#a3a3a3", "strokeWidth": 3},
   "layer": [
    {"data": {"name": "box"}, "transform": [{"filter": "datum.p == 'PC3-'"}],
     "layer": [
      {"mark": {"type": "rect", "fillOpacity": 0, "stroke": "#000000", "strokeWidth": 3},
       "encoding": {"x": {"field": "q1", "type": "quantitative", "scale": {"domain": [-1.13, 6.13], "nice": false, "zero": false}, "axis": null}, "x2": {"field": "q3"},
                    "y": {"datum": 0.31, "type": "quantitative", "scale": {"domain": [0, 1], "nice": false, "zero": false}, "axis": null}, "y2": {"datum": 0.715}}},
      {"mark": {"type": "rule", "color": "#000000", "strokeWidth": 3},
       "encoding": {"x": {"field": "med", "type": "quantitative", "scale": {"domain": [-1.13, 6.13], "nice": false, "zero": false}, "axis": null},
                    "y": {"datum": 0.31, "type": "quantitative", "scale": {"domain": [0, 1], "nice": false, "zero": false}, "axis": null}, "y2": {"datum": 0.715}}},
      {"mark": {"type": "rule", "color": "#000000", "strokeWidth": 3},
       "encoding": {"x": {"field": "q3", "type": "quantitative", "scale": {"domain": [-1.13, 6.13], "nice": false, "zero": false}, "axis": null}, "x2": {"field": "wh"},
                    "y": {"datum": 0.51, "type": "quantitative", "scale": {"domain": [0, 1], "nice": false, "zero": false}, "axis": null}}},
      {"mark": {"type": "rule", "color": "#000000", "strokeWidth": 3},
       "encoding": {"x": {"field": "wh", "type": "quantitative", "scale": {"domain": [-1.13, 6.13], "nice": false, "zero": false}, "axis": null},
                    "y": {"datum": 0.31, "type": "quantitative", "scale": {"domain": [0, 1], "nice": false, "zero": false}, "axis": null}, "y2": {"datum": 0.715}}},
      {"mark": {"type": "rule", "color": "#333333", "strokeWidth": 2.5},
       "encoding": {"x": {"field": "lo", "type": "quantitative", "scale": {"domain": [-1.13, 6.13], "nice": false, "zero": false}, "axis": null}, "x2": {"field": "mean"},
                    "y": {"datum": 0.51, "type": "quantitative", "scale": {"domain": [0, 1], "nice": false, "zero": false}, "axis": null}, "y2": {"datum": 0.65}}},
      {"mark": {"type": "rule", "color": "#333333", "strokeWidth": 2.5},
       "encoding": {"x": {"field": "mean", "type": "quantitative", "scale": {"domain": [-1.13, 6.13], "nice": false, "zero": false}, "axis": null}, "x2": {"field": "hi"},
                    "y": {"datum": 0.65, "type": "quantitative", "scale": {"domain": [0, 1], "nice": false, "zero": false}, "axis": null}, "y2": {"datum": 0.51}}},
      {"mark": {"type": "rule", "color": "#333333", "strokeWidth": 2.5},
       "encoding": {"x": {"field": "hi", "type": "quantitative", "scale": {"domain": [-1.13, 6.13], "nice": false, "zero": false}, "axis": null}, "x2": {"field": "mean"},
                    "y": {"datum": 0.51, "type": "quantitative", "scale": {"domain": [0, 1], "nice": false, "zero": false}, "axis": null}, "y2": {"datum": 0.4}}},
      {"mark": {"type": "rule", "color": "#333333", "strokeWidth": 2.5},
       "encoding": {"x": {"field": "mean", "type": "quantitative", "scale": {"domain": [-1.13, 6.13], "nice": false, "zero": false}, "axis": null}, "x2": {"field": "lo"},
                    "y": {"datum": 0.4, "type": "quantitative", "scale": {"domain": [0, 1], "nice": false, "zero": false}, "axis": null}, "y2": {"datum": 0.51}}},
      {"transform": [{"filter": "datum.sh > datum.sl"}], "mark": {"type": "rule", "color": "#f04444", "strokeWidth": 3},
       "encoding": {"x": {"field": "sl", "type": "quantitative", "scale": {"domain": [-1.13, 6.13], "nice": false, "zero": false}, "axis": null}, "x2": {"field": "sh"},
                    "y": {"datum": 0.89, "type": "quantitative", "scale": {"domain": [0, 1], "nice": false, "zero": false}, "axis": null}}},
      {"transform": [{"filter": "datum.sh > datum.sl"}], "mark": {"type": "rule", "color": "#f04444", "strokeWidth": 3},
       "encoding": {"x": {"field": "sl", "type": "quantitative", "scale": {"domain": [-1.13, 6.13], "nice": false, "zero": false}, "axis": null},
                    "y": {"datum": 0.82, "type": "quantitative", "scale": {"domain": [0, 1], "nice": false, "zero": false}, "axis": null}, "y2": {"datum": 0.89}}},
      {"transform": [{"filter": "datum.sh > datum.sl"}], "mark": {"type": "rule", "color": "#f04444", "strokeWidth": 3},
       "encoding": {"x": {"field": "sh", "type": "quantitative", "scale": {"domain": [-1.13, 6.13], "nice": false, "zero": false}, "axis": null},
                    "y": {"datum": 0.82, "type": "quantitative", "scale": {"domain": [0, 1], "nice": false, "zero": false}, "axis": null}, "y2": {"datum": 0.89}}}
     ]},
    {"data": {"name": "pts"}, "transform": [{"filter": "datum.p == 'PC3-' && datum.v > 2"}],
     "mark": {"type": "circle", "color": "#000000", "size": 260, "opacity": 1},
     "encoding": {"x": {"field": "v", "type": "quantitative", "scale": {"domain": [-1.13, 6.13], "nice": false, "zero": false}, "axis": null},
                  "y": {"datum": 0.51, "type": "quantitative", "scale": {"domain": [0, 1], "nice": false, "zero": false}, "axis": null}}}
   ]},
  {"width": 299, "height": 10, "data": {"values": [{}]}, "mark": {"type": "point", "opacity": 0}, "view": {"stroke": null}},
  {"width": 959, "height": 149, "view": {"fill": "#f8f8f8", "stroke": "#a3a3a3", "strokeWidth": 3},
   "layer": [
    {"data": {"name": "box"}, "transform": [{"filter": "datum.p == 'PC4+'"}],
     "layer": [
      {"mark": {"type": "rect", "fillOpacity": 0, "stroke": "#000000", "strokeWidth": 3},
       "encoding": {"x": {"field": "q1", "type": "quantitative", "scale": {"domain": [-1.131, 7.17], "nice": false, "zero": false}, "axis": null}, "x2": {"field": "q3"},
                    "y": {"datum": 0.31, "type": "quantitative", "scale": {"domain": [0, 1], "nice": false, "zero": false}, "axis": null}, "y2": {"datum": 0.715}}},
      {"mark": {"type": "rule", "color": "#000000", "strokeWidth": 3},
       "encoding": {"x": {"field": "q3", "type": "quantitative", "scale": {"domain": [-1.131, 7.17], "nice": false, "zero": false}, "axis": null}, "x2": {"field": "wh"},
                    "y": {"datum": 0.51, "type": "quantitative", "scale": {"domain": [0, 1], "nice": false, "zero": false}, "axis": null}}},
      {"mark": {"type": "rule", "color": "#000000", "strokeWidth": 3},
       "encoding": {"x": {"field": "wh", "type": "quantitative", "scale": {"domain": [-1.131, 7.17], "nice": false, "zero": false}, "axis": null},
                    "y": {"datum": 0.31, "type": "quantitative", "scale": {"domain": [0, 1], "nice": false, "zero": false}, "axis": null}, "y2": {"datum": 0.715}}},
      {"mark": {"type": "rule", "color": "#333333", "strokeWidth": 2.5},
       "encoding": {"x": {"field": "lo", "type": "quantitative", "scale": {"domain": [-1.131, 7.17], "nice": false, "zero": false}, "axis": null}, "x2": {"field": "mean"},
                    "y": {"datum": 0.51, "type": "quantitative", "scale": {"domain": [0, 1], "nice": false, "zero": false}, "axis": null}, "y2": {"datum": 0.65}}},
      {"mark": {"type": "rule", "color": "#333333", "strokeWidth": 2.5},
       "encoding": {"x": {"field": "mean", "type": "quantitative", "scale": {"domain": [-1.131, 7.17], "nice": false, "zero": false}, "axis": null}, "x2": {"field": "hi"},
                    "y": {"datum": 0.65, "type": "quantitative", "scale": {"domain": [0, 1], "nice": false, "zero": false}, "axis": null}, "y2": {"datum": 0.51}}},
      {"mark": {"type": "rule", "color": "#333333", "strokeWidth": 2.5},
       "encoding": {"x": {"field": "hi", "type": "quantitative", "scale": {"domain": [-1.131, 7.17], "nice": false, "zero": false}, "axis": null}, "x2": {"field": "mean"},
                    "y": {"datum": 0.51, "type": "quantitative", "scale": {"domain": [0, 1], "nice": false, "zero": false}, "axis": null}, "y2": {"datum": 0.4}}},
      {"mark": {"type": "rule", "color": "#333333", "strokeWidth": 2.5},
       "encoding": {"x": {"field": "mean", "type": "quantitative", "scale": {"domain": [-1.131, 7.17], "nice": false, "zero": false}, "axis": null}, "x2": {"field": "lo"},
                    "y": {"datum": 0.4, "type": "quantitative", "scale": {"domain": [0, 1], "nice": false, "zero": false}, "axis": null}, "y2": {"datum": 0.51}}}
     ]},
    {"data": {"name": "pts"}, "transform": [{"filter": "datum.p == 'PC4+' && datum.v > 1"}],
     "mark": {"type": "circle", "color": "#000000", "size": 260, "opacity": 1},
     "encoding": {"x": {"field": "v", "type": "quantitative", "scale": {"domain": [-1.131, 7.17], "nice": false, "zero": false}, "axis": null},
                  "y": {"datum": 0.51, "type": "quantitative", "scale": {"domain": [0, 1], "nice": false, "zero": false}, "axis": null}}}
   ]}
]},
{"bounds": "flush", "spacing": 0, "hconcat": [
  {"width": 56, "height": 10, "data": {"values": [{}]}, "mark": {"type": "point", "opacity": 0}, "view": {"stroke": null}},
  {"width": 953, "height": 377, "view": {"fill": "#ffffff", "stroke": "#a3a3a3", "strokeWidth": 3},
   "data": {"name": "hist"}, "transform": [{"filter": "datum.p == 'PC3-'"}],
   "mark": {"type": "rect", "fill": "#c2d2bf", "stroke": "#505050", "strokeWidth": 2.5},
   "encoding": {
    "x": {"field": "b0", "type": "quantitative", "scale": {"domain": [-1.13, 6.13], "nice": false, "zero": false},
          "axis": {"values": [-1, 0, 1, 2, 3, 4, 5, 6], "labelExpr": "datum.value >= 1 ? '-' + datum.value : ''", "labelFont": "Liberation Serif", "labelFontWeight": "bold", "grid": false, "title": null}},
    "x2": {"field": "b1"},
    "y": {"field": "n", "type": "quantitative", "scale": {"domain": [0, 48.8], "nice": false}, "axis": null},
    "y2": {"datum": 0}}},
  {"width": 299, "height": 10, "data": {"values": [{}]}, "mark": {"type": "point", "opacity": 0}, "view": {"stroke": null}},
  {"width": 959, "height": 377, "view": {"fill": "#f8f8f8", "stroke": "#a3a3a3", "strokeWidth": 3},
   "data": {"name": "hist"}, "transform": [{"filter": "datum.p == 'PC4+'"}],
   "mark": {"type": "rect", "fill": "#c2d2bf", "stroke": "#505050", "strokeWidth": 2.5},
   "encoding": {
    "x": {"field": "b0", "type": "quantitative", "scale": {"domain": [-1.131, 7.17], "nice": false, "zero": false},
          "axis": {"values": [-1, 0, 1, 2, 3, 4, 5, 6, 7], "labelExpr": "(datum.value < 0 ? '-' : '') + abs(datum.value)", "labelFont": "Noto Sans", "labelFontSize": 38, "grid": false, "title": null}},
    "x2": {"field": "b1"},
    "y": {"field": "n", "type": "quantitative", "scale": {"domain": [0, 56.3], "nice": false}, "axis": null},
    "y2": {"datum": 0}}}
]}
]
}
